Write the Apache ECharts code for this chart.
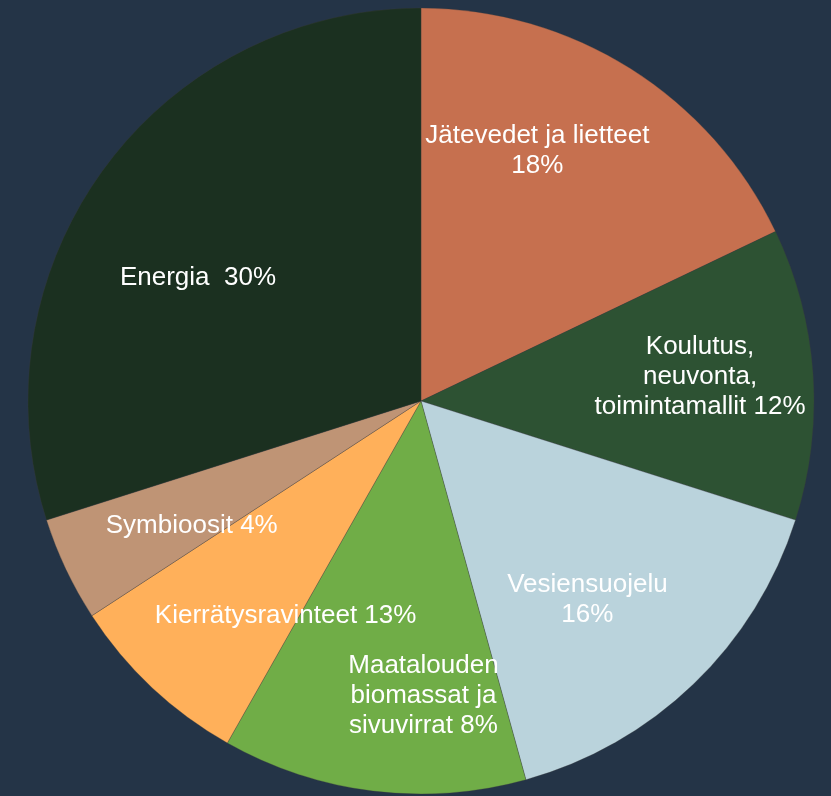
<!DOCTYPE html>
<html>
<head>
<meta charset="utf-8">
<script src="https://cdn.jsdelivr.net/npm/echarts@6/dist/echarts.min.js"></script>
<style>
html,body{margin:0;padding:0;background:#243447;}
#chart{width:831px;height:796px;}
</style>
</head>
<body>
<div id="chart"></div>
<script>
// Slice order clockwise from 12 o'clock
const categories = [
  'Jätevedet ja lietteet',
  'Koulutus, neuvonta, toimintamallit',
  'Vesiensuojelu',
  'Kierrätysravinteet',
  'Maatalouden biomassat ja sivuvirrat',
  'Symbioosit',
  'Energia'
];
// slice sizes (percent)
const sliceValues = [17.9, 12.0, 15.8, 12.5, 7.6, 4.3, 29.9];
// percentages printed in the labels
const labelPercents = [18, 12, 16, 13, 8, 4, 30];
// label text with line breaks as in the picture
const labelNames = [
  'Jätevedet ja lietteet\n',
  'Koulutus,\nneuvonta,\ntoimintamallit ',
  'Vesiensuojelu\n',
  'Kierrätysravinteet ',
  'Maatalouden\nbiomassat ja\nsivuvirrat ',
  'Symbioosit ',
  'Energia  '
];

const colors = ['#C6704F', '#2D5233', '#BAD3DC', '#70AD47', '#FFB05A', '#BF9475', '#1B3020'];
// label shifts from library's inside position
const labelShift = [[10, -81], [80, -10], [28, 55], [-111, 17], [139, 149], [-49, 39], [-62, -5]];

const chart = echarts.init(document.getElementById('chart'), null, {renderer: 'canvas'});
chart.setOption({
  backgroundColor: '#243447',
  animation: false,
  series: [{
    type: 'pie',
    center: [421, 401],
    radius: 393,
    startAngle: 90,
    clockwise: true,
    avoidLabelOverlap: false,
    silent: true,
    itemStyle: {borderWidth: 0.5, borderColor: 'rgba(60,60,60,0.6)'},
    label: {
      show: true,
      position: 'inside',
      color: '#ffffff',
      fontFamily: '"Liberation Sans", Arial, sans-serif',
      fontSize: 26,
      lineHeight: 30,
      align: 'center',
      formatter: p => labelNames[p.dataIndex] + labelPercents[p.dataIndex] + '%'
    },
    labelLine: {show: false},
    labelLayout: p => ({dx: labelShift[p.dataIndex][0], dy: labelShift[p.dataIndex][1]}),
    emphasis: {disabled: true},
    data: categories.map((c, i) => ({name: c, value: sliceValues[i], itemStyle: {color: colors[i]}}))
  }]
});
</script>
</body>
</html>
